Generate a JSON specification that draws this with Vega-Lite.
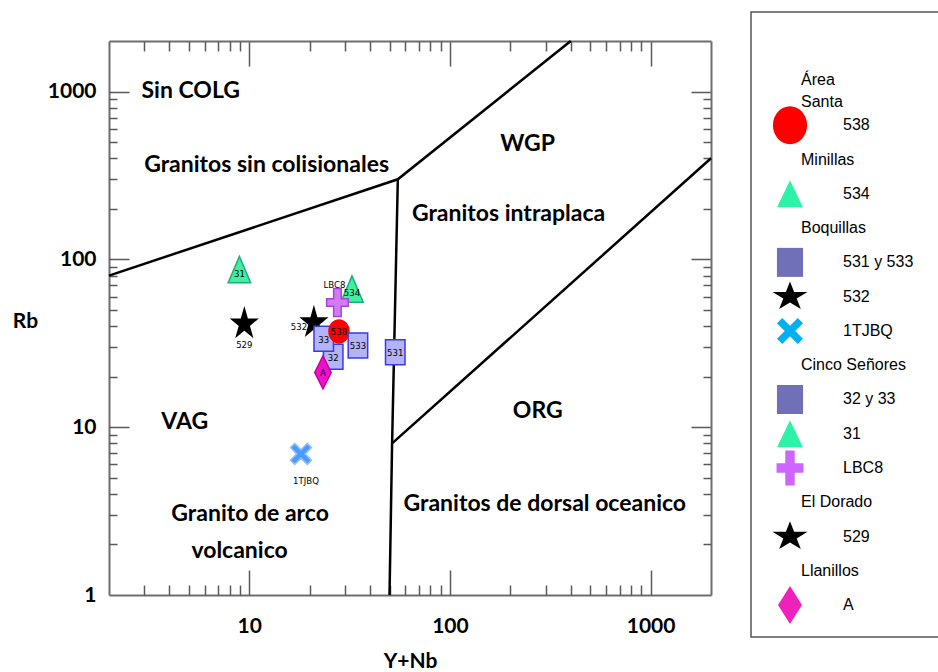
{
  "$schema": "https://vega.github.io/schema/vega-lite/v6.json",
  "background": "white",
  "padding": {"left": 12, "top": 11, "right": 0, "bottom": 0},
  "spacing": 34,
  "datasets": {
    "lineas": [
      {"linea": "a", "orden": 1, "YNb": 2, "Rb": 80},
      {"linea": "a", "orden": 2, "YNb": 55, "Rb": 300},
      {"linea": "a", "orden": 3, "YNb": 400, "Rb": 2000},
      {"linea": "b", "orden": 1, "YNb": 55, "Rb": 300},
      {"linea": "b", "orden": 2, "YNb": 51.5, "Rb": 8},
      {"linea": "b", "orden": 3, "YNb": 50, "Rb": 1},
      {"linea": "c", "orden": 1, "YNb": 51.5, "Rb": 8},
      {"linea": "c", "orden": 2, "YNb": 2000, "Rb": 400}
    ],
    "puntos": [
      {"muestra": "532", "serie": "532", "YNb": 21.0, "Rb": 41.9},
      {"muestra": "32", "serie": "32 y 33", "YNb": 26.2, "Rb": 26.3},
      {"muestra": "33", "serie": "32 y 33", "YNb": 23.5, "Rb": 33.6},
      {"muestra": "538", "serie": "538", "YNb": 28.0, "Rb": 37.2},
      {"muestra": "534", "serie": "534", "YNb": 32.5, "Rb": 66.5},
      {"muestra": "LBC8", "serie": "LBC8", "YNb": 27.5, "Rb": 55.3},
      {"muestra": "A", "serie": "A", "YNb": 23.3, "Rb": 21.2},
      {"muestra": "531", "serie": "531 y 533", "YNb": 53.4, "Rb": 28.0},
      {"muestra": "533", "serie": "531 y 533", "YNb": 34.8, "Rb": 30.7},
      {"muestra": "31", "serie": "31", "YNb": 8.93, "Rb": 86.9},
      {"muestra": "529", "serie": "529", "YNb": 9.45, "Rb": 41.3},
      {"muestra": "1TJBQ", "serie": "1TJBQ", "YNb": 18.1, "Rb": 6.93}
    ],
    "regiones": [
      {"texto": "Sin COLG", "YNb": 5.11, "Rb": 1012},
      {"texto": "Granitos sin colisionales", "YNb": 12.2, "Rb": 366},
      {"texto": "WGP", "YNb": 244, "Rb": 489},
      {"texto": "Granitos intraplaca", "YNb": 196, "Rb": 187},
      {"texto": "VAG", "YNb": 4.77, "Rb": 10.8},
      {"texto": "ORG", "YNb": 274, "Rb": 12.5},
      {"texto": "Granito de arco", "YNb": 10.1, "Rb": 3.04},
      {"texto": "volcanico", "YNb": 8.95, "Rb": 1.83},
      {"texto": "Granitos de dorsal oceanico", "YNb": 297, "Rb": 3.49}
    ],
    "leyenda": [
      {"orden": 1, "tipo": "titulo", "texto": "Área\nSanta"},
      {"orden": 2, "tipo": "item", "texto": "538", "serie": "538"},
      {"orden": 3, "tipo": "titulo", "texto": "Minillas"},
      {"orden": 4, "tipo": "item", "texto": "534", "serie": "534"},
      {"orden": 5, "tipo": "titulo", "texto": "Boquillas"},
      {"orden": 6, "tipo": "item", "texto": "531 y 533", "serie": "531 y 533"},
      {"orden": 7, "tipo": "item", "texto": "532", "serie": "532"},
      {"orden": 8, "tipo": "item", "texto": "1TJBQ", "serie": "1TJBQ"},
      {"orden": 9, "tipo": "titulo", "texto": "Cinco Señores"},
      {"orden": 10, "tipo": "item", "texto": "32 y 33", "serie": "32 y 33"},
      {"orden": 11, "tipo": "item", "texto": "31", "serie": "31"},
      {"orden": 12, "tipo": "item", "texto": "LBC8", "serie": "LBC8"},
      {"orden": 13, "tipo": "titulo", "texto": "El Dorado"},
      {"orden": 14, "tipo": "item", "texto": "529", "serie": "529"},
      {"orden": 15, "tipo": "titulo", "texto": "Llanillos"},
      {"orden": 16, "tipo": "item", "texto": "A", "serie": "A"}
    ]
  },
  "hconcat": [
    {
      "width": 602,
      "height": 583,
      "view": {"stroke": null},
      "resolve": {"axis": {"x": "independent", "y": "independent"}},
      "layer": [
        {
          "data": {"name": "lineas"},
          "mark": {"type": "line", "color": "#000000", "strokeWidth": 2.5},
          "encoding": {
            "x": {"field": "YNb", "type": "quantitative", "scale": {"type": "log", "domain": [2, 2000], "nice": false},
              "axis": {"orient": "bottom", "values": [10, 100, 1000], "format": "d", "ticks": false, "domain": true, "domainColor": "#6e6e6e", "domainWidth": 2, "grid": false,
                "labelFont": "Lato", "labelFontWeight": "bold", "labelFontSize": 21, "labelColor": "#000000",
                "labelPadding": 20, "labelFlush": false, "labelOverlap": false, "labelBound": false,
                "title": "Y+Nb", "titleFont": "Lato", "titleFontWeight": "bold", "titleFontSize": 21, "titleColor": "#000000",
                "titleY": 66, "titleBaseline": "middle"}},
            "y": {"field": "Rb", "type": "quantitative", "scale": {"type": "log", "domain": [1, 2000], "nice": false, "range": [583, 29]},
              "axis": {"orient": "left", "values": [1, 10, 100, 1000], "format": "d", "ticks": false, "domain": true, "domainColor": "#6e6e6e", "domainWidth": 2, "grid": false,
                "labelFont": "Lato", "labelFontWeight": "bold", "labelFontSize": 21, "labelColor": "#000000",
                "labelPadding": 13, "labelFlush": false, "labelOverlap": false, "labelBound": false,
                "title": "Rb", "titleFont": "Lato", "titleFontWeight": "bold", "titleFontSize": 21, "titleColor": "#000000",
                "titleAngle": 0, "titleX": -84, "titleY": 309, "titleAlign": "center", "titleBaseline": "middle"}},
            "detail": {"field": "linea", "type": "nominal"},
            "order": {"field": "orden", "type": "quantitative"}
          }
        },
        {
          "data": {"name": "puntos"},
          "mark": {"type": "point", "filled": true, "opacity": 1, "strokeWidth": 1.5},
          "encoding": {
            "x": {"field": "YNb", "type": "quantitative", "scale": {"type": "log", "domain": [2, 2000], "nice": false},
              "axis": {"orient": "bottom", "values": [10, 100, 1000], "labels": false, "domain": false, "grid": false, "ticks": true, "tickSize": -25, "tickColor": "#5a5a5a", "tickWidth": 1.5, "title": null}},
            "y": {"field": "Rb", "type": "quantitative", "scale": {"type": "log", "domain": [1, 2000], "nice": false, "range": [583, 29]},
              "axis": {"orient": "left", "values": [10, 100, 1000], "labels": false, "domain": false, "grid": false, "ticks": true, "tickSize": -20, "tickColor": "#5a5a5a", "tickWidth": 1.5, "title": null}},
            "shape": {"field": "serie", "type": "nominal", "legend": null,
              "scale": {"domain": ["538", "534", "531 y 533", "532", "1TJBQ", "32 y 33", "31", "LBC8", "529", "A"],
                "range": [
                  "M-0.87,0A0.87,1,0,1,0,0.87,0A0.87,1,0,1,0,-0.87,0Z",
                  "M0,-1L0.85,1L-0.85,1Z",
                  "M-0.78,-1L0.78,-1L0.78,1L-0.78,1Z",
                  "M0,-1.15L0.225,-0.355L0.951,-0.355L0.363,0.136L0.588,0.93L0,0.439L-0.588,0.93L-0.363,0.136L-0.951,-0.355L-0.225,-0.355Z",
                  "M-1,-0.6L-0.6,-1L0,-0.4L0.6,-1L1,-0.6L0.4,0L1,0.6L0.6,1L0,0.4L-0.6,1L-1,0.6L-0.4,0Z",
                  "M-0.78,-1L0.78,-1L0.78,1L-0.78,1Z",
                  "M0,-1L0.85,1L-0.85,1Z",
                  "M-0.27,-1L0.27,-1L0.27,-0.27L0.77,-0.27L0.77,0.27L0.27,0.27L0.27,1L-0.27,1L-0.27,0.27L-0.77,0.27L-0.77,-0.27L-0.27,-0.27Z",
                  "M0,-1.15L0.225,-0.355L0.951,-0.355L0.363,0.136L0.588,0.93L0,0.439L-0.588,0.93L-0.363,0.136L-0.951,-0.355L-0.225,-0.355Z",
                  "M0,-1L0.5,0L0,1L-0.5,0Z"
                ]}},
            "size": {"field": "serie", "type": "nominal", "legend": null,
              "scale": {"type": "ordinal", "domain": ["538", "534", "531 y 533", "532", "1TJBQ", "32 y 33", "31", "LBC8", "529", "A"],
                "range": [529, 700, 625, 692, 441, 625, 700, 784, 692, 1089]}},
            "fill": {"field": "serie", "type": "nominal", "legend": null,
              "scale": {"domain": ["538", "534", "531 y 533", "532", "1TJBQ", "32 y 33", "31", "LBC8", "529", "A"],
                "range": ["#ff0000", "#3ef0a0", "#b3b3f7", "#000000", "#4d9aff", "#b3b3f7", "#3ef0a0", "#d57af5", "#000000", "#ee11cc"]}},
            "stroke": {"field": "serie", "type": "nominal", "legend": null,
              "scale": {"domain": ["538", "534", "531 y 533", "532", "1TJBQ", "32 y 33", "31", "LBC8", "529", "A"],
                "range": ["#ff0000", "#1fae78", "#3a3ae6", "#000000", "#8fc0ff", "#3a3ae6", "#1fae78", "#a646d6", "#000000", "#c4009f"]}}
          }
        },
        {
          "data": {"name": "regiones"},
          "mark": {"type": "text", "font": "Lato", "fontWeight": "bold", "fontSize": 23, "color": "#000000", "align": "center", "baseline": "middle"},
          "encoding": {
            "x": {"field": "YNb", "type": "quantitative", "scale": {"type": "log", "domain": [2, 2000], "nice": false},
              "axis": {"orient": "bottom", "values": [3, 4, 5, 6, 7, 8, 9, 20, 30, 40, 50, 60, 70, 80, 90, 200, 300, 400, 500, 600, 700, 800, 900], "labels": false, "domain": false, "grid": false, "ticks": true, "tickSize": -10, "tickColor": "#5a5a5a", "tickWidth": 1.5, "title": null}},
            "y": {"field": "Rb", "type": "quantitative", "scale": {"type": "log", "domain": [1, 2000], "nice": false, "range": [583, 29]},
              "axis": {"orient": "left", "values": [2, 3, 4, 5, 6, 7, 8, 9, 20, 30, 40, 50, 60, 70, 80, 90, 200, 300, 400, 500, 600, 700, 800, 900], "labels": false, "domain": false, "grid": false, "ticks": true, "tickSize": -8, "tickColor": "#5a5a5a", "tickWidth": 1.5, "title": null}},
            "text": {"field": "texto", "type": "nominal"}
          }
        },
        {
          "data": {"name": "puntos"},
          "transform": [{"filter": {"field": "muestra", "oneOf": ["538", "533", "531", "33", "32", "A"]}}],
          "mark": {"type": "text", "font": "DejaVu Sans Condensed", "fontSize": 9.5, "color": "#000000", "align": "center", "baseline": "middle", "dy": 1},
          "encoding": {
            "x": {"field": "YNb", "type": "quantitative", "scale": {"type": "log", "domain": [2, 2000], "nice": false},
              "axis": {"orient": "top", "offset": -29, "values": [10, 100, 1000], "labels": false, "domain": true, "domainColor": "#6e6e6e", "domainWidth": 2, "grid": false, "ticks": true, "tickSize": -25, "tickColor": "#5a5a5a", "tickWidth": 1.5, "title": null}},
            "y": {"field": "Rb", "type": "quantitative", "scale": {"type": "log", "domain": [1, 2000], "nice": false, "range": [583, 29]},
              "axis": {"orient": "right", "values": [10, 100, 1000], "labels": false, "domain": true, "domainColor": "#6e6e6e", "domainWidth": 2, "grid": false, "ticks": true, "tickSize": -20, "tickColor": "#5a5a5a", "tickWidth": 1.5, "title": null}},
            "text": {"field": "muestra", "type": "nominal"}
          }
        },
        {
          "data": {"name": "puntos"},
          "transform": [{"filter": {"field": "muestra", "oneOf": ["31", "534"]}}],
          "mark": {"type": "text", "font": "DejaVu Sans Condensed", "fontSize": 9.5, "color": "#000000", "align": "center", "baseline": "middle", "dy": 4},
          "encoding": {
            "x": {"field": "YNb", "type": "quantitative", "scale": {"type": "log", "domain": [2, 2000], "nice": false},
              "axis": {"orient": "top", "offset": -29, "values": [3, 4, 5, 6, 7, 8, 9, 20, 30, 40, 50, 60, 70, 80, 90, 200, 300, 400, 500, 600, 700, 800, 900], "labels": false, "domain": false, "grid": false, "ticks": true, "tickSize": -10, "tickColor": "#5a5a5a", "tickWidth": 1.5, "title": null}},
            "y": {"field": "Rb", "type": "quantitative", "scale": {"type": "log", "domain": [1, 2000], "nice": false, "range": [583, 29]},
              "axis": {"orient": "right", "values": [2, 3, 4, 5, 6, 7, 8, 9, 20, 30, 40, 50, 60, 70, 80, 90, 200, 300, 400, 500, 600, 700, 800, 900], "labels": false, "domain": false, "grid": false, "ticks": true, "tickSize": -8, "tickColor": "#5a5a5a", "tickWidth": 1.5, "title": null}},
            "text": {"field": "muestra", "type": "nominal"}
          }
        },
        {
          "data": {"name": "puntos"},
          "transform": [{"filter": {"field": "muestra", "equal": "529"}}],
          "mark": {"type": "text", "font": "DejaVu Sans Condensed", "fontSize": 9.5, "color": "#000000", "align": "center", "baseline": "middle", "dy": 21},
          "encoding": {
            "x": {"field": "YNb", "type": "quantitative", "scale": {"type": "log", "domain": [2, 2000], "nice": false}, "axis": null},
            "y": {"field": "Rb", "type": "quantitative", "scale": {"type": "log", "domain": [1, 2000], "nice": false, "range": [583, 29]}, "axis": null},
            "text": {"field": "muestra", "type": "nominal"}
          }
        },
        {
          "data": {"name": "puntos"},
          "transform": [{"filter": {"field": "muestra", "equal": "532"}}],
          "mark": {"type": "text", "font": "DejaVu Sans Condensed", "fontSize": 9.5, "color": "#000000", "align": "center", "baseline": "middle", "dx": -15, "dy": 4},
          "encoding": {
            "x": {"field": "YNb", "type": "quantitative", "scale": {"type": "log", "domain": [2, 2000], "nice": false}, "axis": null},
            "y": {"field": "Rb", "type": "quantitative", "scale": {"type": "log", "domain": [1, 2000], "nice": false, "range": [583, 29]}, "axis": null},
            "text": {"field": "muestra", "type": "nominal"}
          }
        },
        {
          "data": {"name": "puntos"},
          "transform": [{"filter": {"field": "muestra", "equal": "LBC8"}}],
          "mark": {"type": "text", "font": "DejaVu Sans Condensed", "fontSize": 9.5, "color": "#000000", "align": "center", "baseline": "middle", "dx": -3, "dy": -18},
          "encoding": {
            "x": {"field": "YNb", "type": "quantitative", "scale": {"type": "log", "domain": [2, 2000], "nice": false}, "axis": null},
            "y": {"field": "Rb", "type": "quantitative", "scale": {"type": "log", "domain": [1, 2000], "nice": false, "range": [583, 29]}, "axis": null},
            "text": {"field": "muestra", "type": "nominal"}
          }
        },
        {
          "data": {"name": "puntos"},
          "transform": [{"filter": {"field": "muestra", "equal": "1TJBQ"}}],
          "mark": {"type": "text", "font": "DejaVu Sans Condensed", "fontSize": 9.5, "color": "#000000", "align": "center", "baseline": "middle", "dx": 5, "dy": 27},
          "encoding": {
            "x": {"field": "YNb", "type": "quantitative", "scale": {"type": "log", "domain": [2, 2000], "nice": false}, "axis": null},
            "y": {"field": "Rb", "type": "quantitative", "scale": {"type": "log", "domain": [1, 2000], "nice": false, "range": [583, 29]}, "axis": null},
            "text": {"field": "muestra", "type": "nominal"}
          }
        }
      ]
    },
    {
      "width": 190,
      "height": 625,
      "view": {"stroke": "#555555", "strokeWidth": 1.5, "fill": "white"},
      "data": {"name": "leyenda"},
      "layer": [
        {
          "transform": [{"filter": "datum.tipo == 'titulo' && datum.orden > 1"}],
          "mark": {"type": "text", "font": "Liberation Sans, Arial, sans-serif", "fontSize": 16, "color": "#000000", "align": "left", "baseline": "middle"},
          "encoding": {
            "x": {"datum": 50, "type": "quantitative", "scale": {"domain": [0, 190], "nice": false, "zero": false}, "axis": null},
            "y": {"field": "orden", "type": "quantitative", "scale": {"domain": [-1.305, 16.93], "nice": false, "zero": false, "reverse": true}, "axis": null},
            "text": {"field": "texto", "type": "nominal"}
          }
        },
        {
          "transform": [{"filter": "datum.tipo == 'titulo' && datum.orden == 1"}],
          "mark": {"type": "text", "font": "Liberation Sans, Arial, sans-serif", "fontSize": 16, "color": "#000000", "align": "left", "baseline": "middle", "lineBreak": "\n", "lineHeight": 22, "dy": -11},
          "encoding": {
            "x": {"datum": 50, "type": "quantitative", "scale": {"domain": [0, 190], "nice": false, "zero": false}, "axis": null},
            "y": {"field": "orden", "type": "quantitative", "scale": {"domain": [-1.305, 16.93], "nice": false, "zero": false, "reverse": true}, "axis": null},
            "text": {"field": "texto", "type": "nominal"}
          }
        },
        {
          "transform": [{"filter": {"field": "tipo", "equal": "item"}}],
          "mark": {"type": "point", "filled": true, "opacity": 1, "strokeWidth": 0},
          "encoding": {
            "x": {"datum": 39, "type": "quantitative", "scale": {"domain": [0, 190], "nice": false, "zero": false}, "axis": null},
            "y": {"field": "orden", "type": "quantitative", "scale": {"domain": [-1.305, 16.93], "nice": false, "zero": false, "reverse": true}, "axis": null},
            "shape": {"field": "serie", "type": "nominal", "legend": null,
              "scale": {"domain": ["538", "534", "531 y 533", "532", "1TJBQ", "32 y 33", "31", "LBC8", "529", "A"],
                "range": [
                  "M-0.9,0A0.9,1,0,1,0,0.9,0A0.9,1,0,1,0,-0.9,0Z",
                  "M0,-1L0.96,1L-0.96,1Z",
                  "M-0.9,-1L0.9,-1L0.9,1L-0.9,1Z",
                  "M0,-0.83L0.225,-0.256L0.951,-0.256L0.363,0.098L0.588,0.671L0,0.317L-0.588,0.671L-0.363,0.098L-0.951,-0.256L-0.225,-0.256Z",
                  "M-1,-0.6L-0.6,-1L0,-0.4L0.6,-1L1,-0.6L0.4,0L1,0.6L0.6,1L0,0.4L-0.6,1L-1,0.6L-0.4,0Z",
                  "M-0.9,-1L0.9,-1L0.9,1L-0.9,1Z",
                  "M0,-1L0.96,1L-0.96,1Z",
                  "M-0.27,-1L0.27,-1L0.27,-0.27L0.77,-0.27L0.77,0.27L0.27,0.27L0.27,1L-0.27,1L-0.27,0.27L-0.77,0.27L-0.77,-0.27L-0.27,-0.27Z",
                  "M0,-0.83L0.225,-0.256L0.951,-0.256L0.363,0.098L0.588,0.671L0,0.317L-0.588,0.671L-0.363,0.098L-0.951,-0.256L-0.225,-0.256Z",
                  "M0,-1L0.63,0L0,1L-0.63,0Z"
                ]}},
            "size": {"field": "serie", "type": "nominal", "legend": null,
              "scale": {"type": "ordinal", "domain": ["538", "534", "531 y 533", "532", "1TJBQ", "32 y 33", "31", "LBC8", "529", "A"],
                "range": [1444, 729, 841, 1354, 676, 841, 729, 1225, 1354, 1444]}},
            "fill": {"field": "serie", "type": "nominal", "legend": null,
              "scale": {"domain": ["538", "534", "531 y 533", "532", "1TJBQ", "32 y 33", "31", "LBC8", "529", "A"],
                "range": ["#ff0000", "#2ef2a8", "#7070b8", "#000000", "#00b0f0", "#7070b8", "#2ef2a8", "#cc66ff", "#000000", "#ee22bb"]}}
          }
        },
        {
          "transform": [{"filter": {"field": "tipo", "equal": "item"}}],
          "mark": {"type": "text", "font": "Liberation Sans, Arial, sans-serif", "fontSize": 16, "color": "#000000", "align": "left", "baseline": "middle"},
          "encoding": {
            "x": {"datum": 92, "type": "quantitative", "scale": {"domain": [0, 190], "nice": false, "zero": false}, "axis": null},
            "y": {"field": "orden", "type": "quantitative", "scale": {"domain": [-1.305, 16.93], "nice": false, "zero": false, "reverse": true}, "axis": null},
            "text": {"field": "texto", "type": "nominal"}
          }
        }
      ]
    }
  ],
  "resolve": {"scale": {"shape": "independent", "fill": "independent", "stroke": "independent", "size": "independent", "color": "independent"}},
  "config": {"axis": {"grid": false}}
}
